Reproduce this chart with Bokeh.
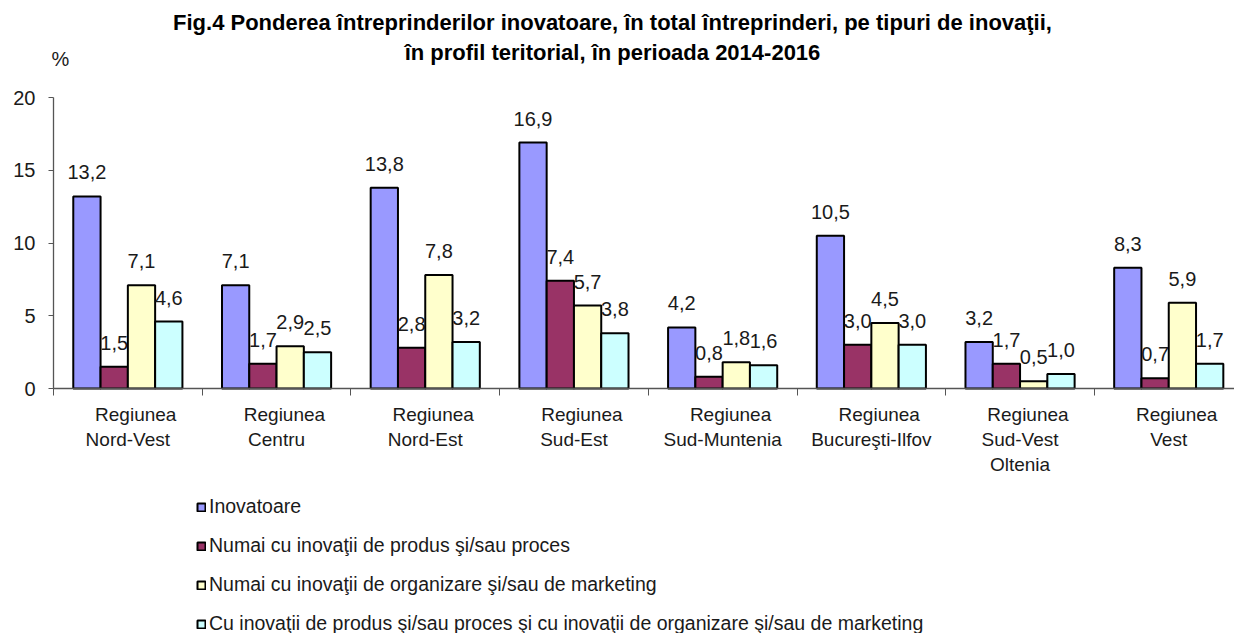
from bokeh.plotting import figure
from bokeh.models import Range1d, FixedTicker, Label, Legend, LegendItem, ColumnDataSource
from bokeh.core.properties import value
from bokeh.embed import file_html
from bokeh.resources import INLINE

# ---------------- data ----------------
regions = [
    "\u00a0\u00a0\u00a0Regiunea\nNord-Vest",
    "\u00a0\u00a0\u00a0Regiunea\nCentru",
    "\u00a0\u00a0\u00a0Regiunea\nNord-Est",
    "\u00a0\u00a0\u00a0Regiunea\nSud-Est",
    "\u00a0\u00a0\u00a0Regiunea\nSud-Muntenia",
    "\u00a0\u00a0\u00a0Regiunea\nBucureşti-Ilfov",
    "\u00a0\u00a0\u00a0Regiunea\nSud-Vest\nOltenia",
    "\u00a0\u00a0\u00a0Regiunea\nVest",
]
inovatoare = [13.2, 7.1, 13.8, 16.9, 4.2, 10.5, 3.2, 8.3]
produs_proces = [1.5, 1.7, 2.8, 7.4, 0.8, 3.0, 1.7, 0.7]
organizare_marketing = [7.1, 2.9, 7.8, 5.7, 1.8, 4.5, 0.5, 5.9]
ambele = [4.6, 2.5, 3.2, 3.8, 1.6, 3.0, 1.0, 1.7]
series_names = [
    "Inovatoare",
    "Numai cu inovaţii de produs şi/sau proces",
    "Numai cu inovaţii de organizare şi/sau de marketing",
    "Cu inovaţii de produs şi/sau proces şi cu inovaţii de organizare şi/sau de marketing",
]
y_ticks = [0, 5, 10, 15, 20]
title_lines = [
    "Fig.4 Ponderea întreprinderilor inovatoare, în total întreprinderi, pe tipuri de inovaţii,",
    "în profil teritorial, în perioada 2014-2016",
]

# ---------------- style / layout ----------------
colors = ["#9999FF", "#993366", "#FFFFCC", "#CCFFFF"]
FONT = "Liberation Sans"
W, H = 1234, 633
X0_PX, Y0_PX, Y20_PX = 53, 388, 97      # pixel positions of x=0, y=0, y=20
CAT_PX = 148.7                           # pixels per category
BAR_W = 0.1835
ppu = (Y0_PX - Y20_PX) / 20.0
x_range = Range1d(-X0_PX / CAT_PX, (W - X0_PX) / CAT_PX)
y_range = Range1d(-(H - Y0_PX) / ppu, 20 + Y20_PX / ppu)

p = figure(width=W, height=H, output_backend="svg", toolbar_location=None,
           x_range=x_range, y_range=y_range,
           min_border_left=0, min_border_right=0, min_border_top=0, min_border_bottom=0)
p.outline_line_color = None
p.xgrid.grid_line_color = None
p.ygrid.grid_line_color = None
p.background_fill_color = "white"
p.border_fill_color = "white"

all_series = [inovatoare, produs_proces, organizare_marketing, ambele]
offsets = [-1.5, -0.5, 0.5, 1.5]
items = []
for s, vals, off, col in zip(series_names, all_series, offsets, colors):
    xs = [i + 0.5 + off * BAR_W for i in range(len(vals))]
    src = ColumnDataSource(dict(x=xs, top=vals,
                                lbl=[f"{v:.1f}".replace(".", ",") for v in vals]))
    r = p.vbar(x="x", top="top", width=BAR_W, source=src, fill_color=col,
               line_color="black", line_width=2)
    p.text(x="x", y="top", text="lbl", source=src, text_align="center",
           text_baseline="alphabetic", y_offset=-24, text_font=value(FONT),
           text_font_size="20px", text_color="#1a1a1a")
    items.append(LegendItem(label=s, renderers=[r]))

# x axis at y=0: labels at category centres, ticks (minor) at boundaries
n = len(regions)
xa = p.xaxis[0]
xa.fixed_location = 0
xa.bounds = (0, n)
xa.ticker = FixedTicker(ticks=[i + 0.5 for i in range(n)], minor_ticks=list(range(n + 1)))
xa.major_label_overrides = {i + 0.5: regions[i] for i in range(n)}
xa.major_tick_line_color = None
xa.major_tick_out = 0
xa.major_tick_in = 0
xa.minor_tick_line_color = "#555555"
xa.minor_tick_out = 7
xa.minor_tick_in = 0
xa.axis_line_color = "#555555"
xa.axis_line_width = 1.3
xa.major_label_standoff = 8
xa.major_label_text_font = FONT
xa.major_label_text_font_size = "19px"
xa.major_label_text_color = "#1a1a1a"
xa.major_label_text_align = "center"

ya = p.yaxis[0]
ya.fixed_location = 0
ya.bounds = (0, 20)
ya.ticker = FixedTicker(ticks=y_ticks)
ya.minor_tick_line_color = None
ya.major_tick_out = 5
ya.major_tick_in = 0
ya.major_tick_line_color = "#555555"
ya.axis_line_color = "#555555"
ya.axis_line_width = 1.3
ya.major_label_standoff = 13
ya.major_label_text_font = FONT
ya.major_label_text_font_size = "20px"
ya.major_label_text_color = "#1a1a1a"

# title and unit
for line, yy in zip(title_lines, [H - 22, H - 52]):
    p.add_layout(Label(x=612, y=yy, x_units="screen", y_units="screen", text=line,
                       text_align="center", text_baseline="middle",
                       text_font=FONT, text_font_size="22px",
                       text_font_style="bold", text_color="#000000"))
p.add_layout(Label(x=60, y=H - 58, x_units="screen", y_units="screen", text="%",
                   text_align="center", text_baseline="middle", text_font=FONT,
                   text_font_size="20px", text_color="#1a1a1a"))

legend = Legend(items=items, location=(196, -2), orientation="vertical",
                glyph_width=10, glyph_height=10, label_standoff=3, spacing=16,
                padding=0, margin=0, border_line_color=None, background_fill_alpha=0,
                label_text_font=FONT, label_text_font_size="19.5px",
                label_text_color="#1a1a1a", label_height=20)
p.add_layout(legend, "center")

open("out.html", "w").write(file_html(p, INLINE))
